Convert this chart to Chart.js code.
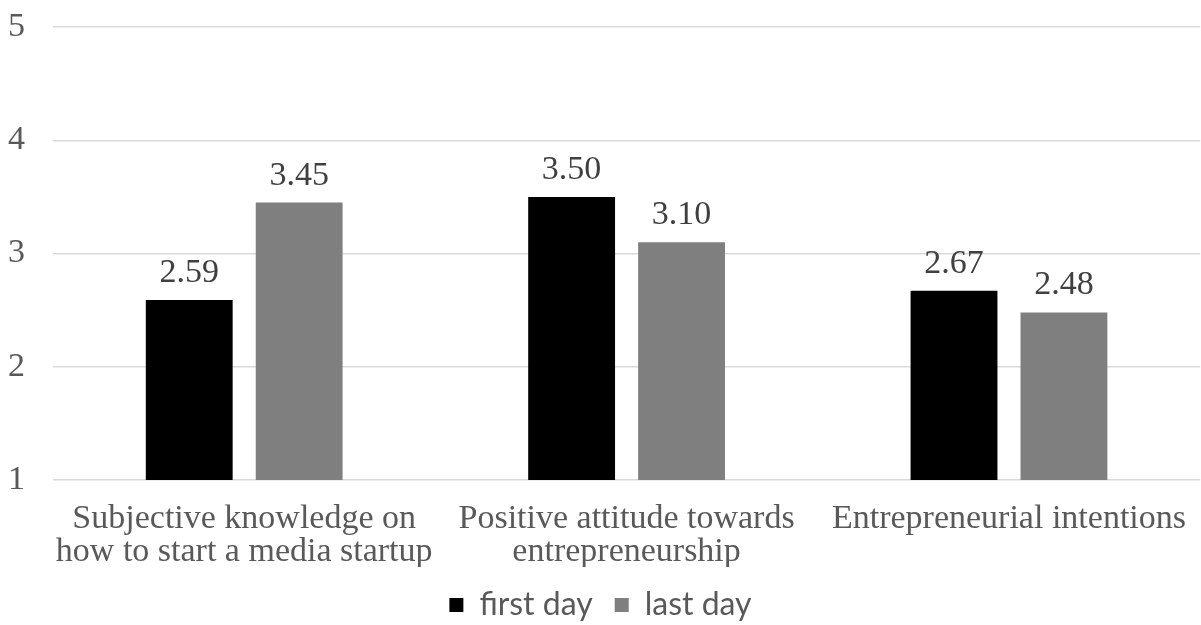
<!DOCTYPE html>
<html>
<head>
<meta charset="utf-8">
<script src="https://cdn.jsdelivr.net/npm/chart.js@4/dist/chart.umd.min.js"></script>
<style>
    html, body { margin: 0; padding: 0; background: #fff; }
    #wrap { width: 1201px; height: 625px; }
</style>
</head>
<body>
<div id="wrap"><canvas id="chart"></canvas></div>
<script>
var categories = [
    ["Subjective knowledge on", "how to start a media startup"],
    ["Positive attitude towards", "entrepreneurship"],
    "Entrepreneurial intentions"
];
var firstDay = [2.59, 3.50, 2.67];
var lastDay = [3.45, 3.10, 2.48];
var yTicks = [1, 2, 3, 4, 5];

var textColor = "#595959";

// values printed above every bar
var barLabels = {
    id: "barLabels",
    afterDatasetsDraw: function(chart) {
        var ctx = chart.ctx;
        ctx.save();
        ctx.font = "34px 'Liberation Serif'";
        ctx.fillStyle = "#404040";
        ctx.textAlign = "center";
        ctx.textBaseline = "alphabetic";
        chart.data.datasets.forEach(function(ds, i) {
            chart.getDatasetMeta(i).data.forEach(function(bar, j) {
                ctx.fillText(ds.data[j].toFixed(2), bar.x, bar.y - 18);
            });
        });
        ctx.restore();
    }
};

var config = {
    type: "bar",
    data: {
        labels: categories,
        datasets: [{
            label: "first day",
            data: firstDay,
            backgroundColor: "#000000",
            categoryPercentage: 0.575,
            barPercentage: 0.79
        }, {
            label: "last day",
            data: lastDay,
            backgroundColor: "#7f7f7f",
            categoryPercentage: 0.575,
            barPercentage: 0.79
        }]
    },
    options: {
        responsive: true,
        maintainAspectRatio: false,
        animation: false,
        layout: { padding: { top: 27, right: 0, left: 0, bottom: -6 } },
        plugins: {
            legend: {
                position: "bottom",
                labels: {
                    font: { family: "Lato", size: 32 },
                    color: textColor,
                    boxWidth: 14,
                    boxHeight: 14,
                    padding: 22
                }
            },
            tooltip: { enabled: false }
        },
        scales: {
            x: {
                afterFit: function(scale) { scale.height = 87; },
                grid: { display: false },
                border: { display: false },
                ticks: {
                    font: { family: "'Liberation Serif'", size: 34, lineHeight: 0.97 },
                    color: textColor,
                    maxRotation: 0,
                    autoSkip: false,
                    padding: 15
                }
            },
            y: {
                min: 1,
                max: 5,
                afterFit: function(scale) {
                    scale.width = 53;
                    scale.paddingTop = 0;
                    scale.paddingBottom = 0;
                },
                afterBuildTicks: function(scale) {
                    scale.ticks = yTicks.map(function(v) { return { value: v }; });
                },
                grid: { color: "#d9d9d9", lineWidth: 1.5, drawTicks: false },
                border: { display: false },
                ticks: {
                    font: { family: "'Liberation Serif'", size: 34 },
                    color: textColor,
                    padding: 28,
                    align: "center"
                }
            }
        }
    },
    plugins: [barLabels]
};

var ctx = document.getElementById("chart");
window.myChart = new Chart(ctx, config);
</script>
</body>
</html>
